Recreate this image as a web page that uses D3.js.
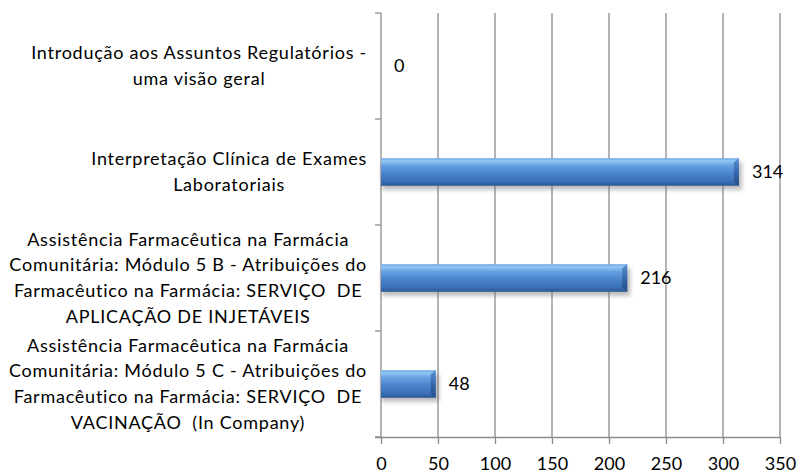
<!DOCTYPE html>
<html>
<head>
<meta charset="utf-8">
<script src="https://cdn.jsdelivr.net/npm/d3@7"></script>
<style>
  body { margin: 0; background: #fff; }
  text { font-family: Lato, "Open Sans", sans-serif; fill: #000; }
</style>
</head>
<body>
<div id="chart"></div>
<script>
// categories, top to bottom, already split into lines as in the picture
const categories = [
  ['Introdução aos Assuntos Regulatórios -', 'uma visão geral'],
  ['Interpretação Clínica de Exames', 'Laboratoriais'],
  ['Assistência Farmacêutica na Farmácia', 'Comunitária: Módulo 5 B - Atribuições do', 'Farmacêutico na Farmácia: SERVIÇO  DE', 'APLICAÇÃO DE INJETÁVEIS'],
  ['Assistência Farmacêutica na Farmácia', 'Comunitária: Módulo 5 C - Atribuições do', 'Farmacêutico na Farmácia: SERVIÇO  DE', 'VACINAÇÃO  (In Company)']
]
const values = [0, 314, 216, 48]
const xTicks = [0, 50, 100, 150, 200, 250, 300, 350]

const width = 798
const height = 474
const margin = { top: 13, right: 18, bottom: 37, left: 381 }
const innerH = height - margin.top - margin.bottom

const svg = d3.select('#chart')
.append('svg')
.attr('width', width)
.attr('height', height)

const defs = svg.append('defs')
const grad = defs.append('linearGradient')
.attr('id', 'barGrad')
.attr('x1', 0).attr('y1', 0).attr('x2', 0).attr('y2', 1)
;[[0, '#6aa5e6'], [0.1, '#94c8f4'], [0.25, '#6aa3e3'], [0.55, '#4a84cc'], [0.85, '#3a6fb6'], [1, '#2a5892']]
  .forEach(s => grad.append('stop').attr('offset', s[0]).attr('stop-color', s[1]))

const capGrad = defs.append('linearGradient')
.attr('id', 'capGrad')
.attr('x1', 0).attr('y1', 0).attr('x2', 0).attr('y2', 1)
;[[0, '#5a90d2'], [0.5, '#3769ac'], [1, '#244c84']]
  .forEach(s => capGrad.append('stop').attr('offset', s[0]).attr('stop-color', s[1]))

defs.append('filter')
.attr('id', 'shadow')
.attr('x', '-10%').attr('y', '-50%').attr('width', '120%').attr('height', '200%')
.append('feGaussianBlur')
.attr('stdDeviation', 2)

const x = d3.scaleLinear()
.domain([0, 350])
.range([0, 399])

const y = d3.scaleBand()
.domain(d3.range(categories.length))
.range([0, innerH])
.paddingInner(0.74)
.paddingOuter(0.37)

const g = svg.append('g')
.attr('transform', `translate(${margin.left}, ${margin.top})`)

// vertical gridlines
g.append('g')
.selectAll('line')
.data(xTicks.slice(1))
.join('line')
.attr('x1', d => x(d)).attr('x2', d => x(d))
.attr('y1', 0).attr('y2', innerH)
.attr('stroke', '#8c8c8c')
.attr('stroke-width', 1.3)

// bottom axis
const xAxis = g.append('g')
.attr('transform', `translate(0, ${innerH})`)
.call(d3.axisBottom(x).tickValues(xTicks).tickSize(7).tickPadding(13))
xAxis.select('.domain')
.attr('d', `M-6,0.5H${x(350)}`)
.attr('stroke', '#8c8c8c')
.attr('stroke-width', 1.3)
xAxis.selectAll('.tick line').attr('stroke', '#8c8c8c').attr('stroke-width', 1.3)
xAxis.selectAll('.tick text')
.style('font-size', '18px')
.style('font-family', 'Lato, sans-serif')
.attr('fill', '#000')

// left axis with ticks between categories
const band = innerH / categories.length
g.append('line')
.attr('x1', 0).attr('x2', 0).attr('y1', 0).attr('y2', innerH)
.attr('stroke', '#8c8c8c').attr('stroke-width', 1.3)
g.append('g')
.selectAll('line')
.data(d3.range(categories.length + 1))
.join('line')
.attr('x1', -6).attr('x2', 0)
.attr('y1', d => d * band).attr('y2', d => d * band)
.attr('stroke', '#8c8c8c').attr('stroke-width', 1.3)

// bars
const bars = g.append('g')
.selectAll('g')
.data(values.map((v, i) => ({ v, i })).filter(d => d.v > 0))
.join('g')

bars.append('rect')
.attr('x', 1)
.attr('y', d => y(d.i) + 4)
.attr('width', d => x(d.v) + 2)
.attr('height', y.bandwidth())
.attr('fill', '#777')
.attr('opacity', 0.5)
.attr('filter', 'url(#shadow)')

bars.append('rect')
.attr('x', 0)
.attr('y', d => y(d.i))
.attr('width', d => x(d.v))
.attr('height', y.bandwidth())
.attr('fill', 'url(#barGrad)')

bars.append('path')
.attr('d', d => {
  const x1 = x(d.v)
  const y0 = y(d.i)
  const h = y.bandwidth()
  return `M${x1 - 5},${y0 + 4}L${x1},${y0}L${x1},${y0 + h}L${x1 - 5},${y0 + h - 4}Z`
})
.attr('fill', 'url(#capGrad)')

// value labels
g.append('g')
.selectAll('text')
.data(values)
.join('text')
.attr('x', d => x(d) + 13)
.attr('y', (d, i) => y(i) + y.bandwidth() / 2)
.attr('dy', '0.35em')
.style('font-size', '18px')
.text(d => d)

// category labels: block right aligned, lines centered
const lineH = 25.7
const labels = svg.append('g')
categories.forEach((lines, i) => {
  const t = labels.append('text')
  .attr('text-anchor', 'middle')
  .style('font-size', '18px')
  .style('letter-spacing', '0.75px')
  .style('white-space', 'pre')
  const cy = margin.top + band * i + band / 2
  lines.forEach((l, j) => {
    t.append('tspan')
    .attr('y', cy + (j - (lines.length - 1) / 2) * lineH)
    .attr('dy', '0.35em')
    .text(l)
  })
  const w = d3.max(t.selectAll('tspan').nodes(), n => n.getComputedTextLength())
  t.selectAll('tspan').attr('x', 367 - w / 2)
})
</script>
</body>
</html>
